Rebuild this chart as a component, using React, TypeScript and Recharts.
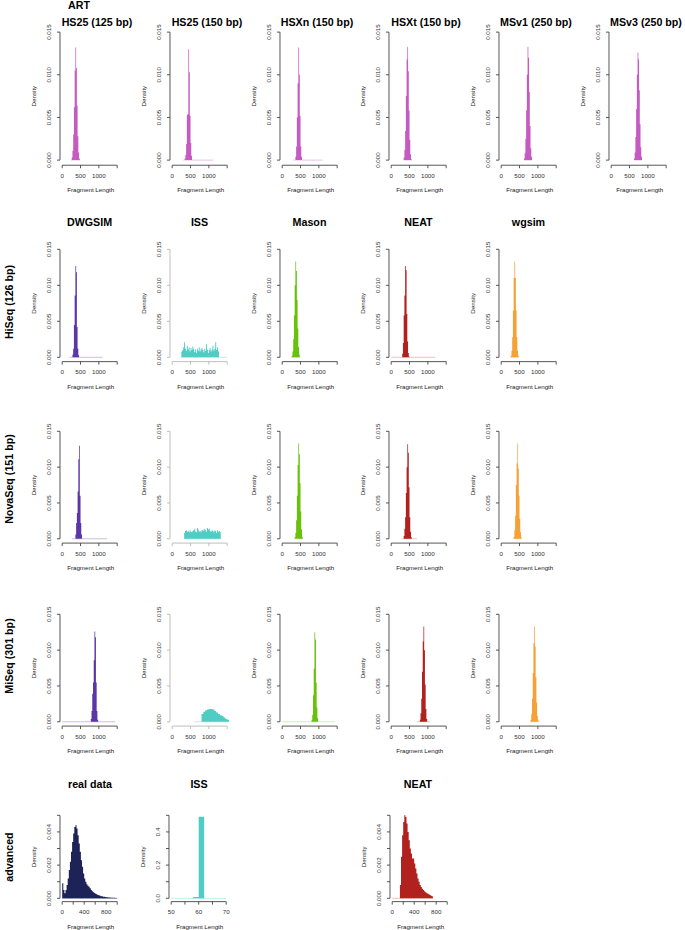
import React from 'react'
import { AreaChart, Area, XAxis, YAxis, ReferenceLine } from 'recharts'

// each bin: [lower edge of bin (bp), density]; last entry closes the last bin
type Bin = [number, number]

// ART
const artHs25_125: Bin[] = [[240, 0], [260, 0.0003], [280, 0.0011], [300, 0.003], [320, 0.0062], [340, 0.0105], [360, 0.0132], [380, 0.0108], [400, 0.0064], [420, 0.0028], [440, 0.0009], [460, 0.0002], [480, 0]]
const artHs25_150: Bin[] = [[300, 0], [340, 0.0002], [360, 0.0006], [380, 0.0019], [400, 0.0053], [420, 0.0054], [440, 0.013], [460, 0.0103], [480, 0.0052], [500, 0.002], [520, 0.0005], [540, 0], [1120, 0]]
const artHsxn_150: Bin[] = [[300, 0], [360, 0.0004], [380, 0.0016], [400, 0.005], [420, 0.009], [440, 0.0132], [460, 0.01], [480, 0.0052], [500, 0.0016], [520, 0.0004], [540, 0], [1100, 0]]
const artHsxt_150: Bin[] = [[340, 0.0003], [360, 0.0012], [380, 0.0034], [400, 0.0075], [420, 0.0118], [440, 0.0133], [460, 0.0104], [480, 0.0058], [500, 0.0024], [520, 0.0007], [540, 0.0001], [560, 0]]
const artMsv1_250: Bin[] = [[620, 0.0002], [640, 0.0008], [660, 0.0025], [680, 0.0058], [700, 0.01], [720, 0.0133], [740, 0.012], [760, 0.008], [780, 0.004], [800, 0.0014], [820, 0.0004], [840, 0]]
const artMsv3_250: Bin[] = [[620, 0.0002], [640, 0.0009], [660, 0.0027], [680, 0.006], [700, 0.01], [720, 0.0126], [740, 0.0118], [760, 0.0082], [780, 0.0042], [800, 0.0015], [820, 0.0004], [840, 0]]

// HiSeq (126 bp)
const dwgsimHiseq: Bin[] = [[200, 0], [280, 0.0004], [300, 0.0012], [320, 0.0045], [340, 0.0086], [360, 0.0127], [380, 0.0118], [400, 0.0042], [420, 0.0012], [440, 0.0003], [460, 0], [1100, 0]]
const issHiseq: Bin[] = [
  [250, 0.0008], [275, 0.001], [300, 0.0014], [325, 0.0021], [350, 0.0012], [375, 0.0009], [400, 0.0016], [425, 0.0011],
  [450, 0.0014], [475, 0.0008], [500, 0.0013], [525, 0.001], [550, 0.0015], [575, 0.0012], [600, 0.0007], [625, 0.0011],
  [650, 0.0006], [675, 0.0012], [700, 0.0009], [725, 0.0014], [750, 0.0008], [775, 0.0011], [800, 0.0013], [825, 0.001],
  [850, 0.0007], [875, 0.0012], [900, 0.0009], [925, 0.0018], [950, 0.0011], [975, 0.0006], [1000, 0.001], [1025, 0.0013],
  [1050, 0.0008], [1075, 0.0011], [1100, 0.0016], [1125, 0.0009], [1150, 0.0012], [1175, 0.0021], [1200, 0.001], [1225, 0.0014],
  [1250, 0.0008], [1275, 0], [1500, 0],
]
const masonHiseq: Bin[] = [[260, 0.0002], [280, 0.0008], [300, 0.0025], [320, 0.0058], [340, 0.01], [360, 0.0133], [380, 0.012], [400, 0.008], [420, 0.004], [440, 0.0014], [460, 0.0004], [480, 0]]
const neatHiseq: Bin[] = [[0, 0], [300, 0.0005], [320, 0.002], [340, 0.0058], [360, 0.0086], [380, 0.0127], [400, 0.0121], [420, 0.006], [440, 0.0022], [460, 0.0006], [480, 0.0001], [500, 0], [1200, 0]]
const wgsimHiseq: Bin[] = [[260, 0.0002], [280, 0.0009], [300, 0.0028], [320, 0.0065], [340, 0.011], [360, 0.0133], [380, 0.011], [400, 0.0065], [420, 0.0028], [440, 0.0009], [460, 0.0002], [480, 0]]

// NovaSeq (151 bp)
const dwgsimNova: Bin[] = [[260, 0], [360, 0.0006], [380, 0.0022], [400, 0.0036], [420, 0.0066], [440, 0.0111], [460, 0.013], [480, 0.006], [500, 0.0022], [520, 0.0006], [540, 0], [1220, 0]]
const issNova: Bin[] = [
  [325, 0.0008], [350, 0.0011], [375, 0.0012], [400, 0.001], [425, 0.0011], [450, 0.0009], [475, 0.0012], [500, 0.001],
  [525, 0.0009], [550, 0.0011], [575, 0.0012], [600, 0.0014], [625, 0.001], [650, 0.0009], [675, 0.0015], [700, 0.0013],
  [725, 0.001], [750, 0.0011], [775, 0.0009], [800, 0.0012], [825, 0.0013], [850, 0.0011], [875, 0.0014], [900, 0.0012],
  [925, 0.001], [950, 0.0015], [975, 0.0013], [1000, 0.0014], [1025, 0.0011], [1050, 0.001], [1075, 0.0012], [1100, 0.0011],
  [1125, 0.0009], [1150, 0.0012], [1175, 0.0011], [1200, 0.0008], [1225, 0.0012], [1250, 0.001], [1275, 0.0011], [1300, 0.0009],
  [1325, 0],
]
const masonNova: Bin[] = [[340, 0.0002], [360, 0.0008], [380, 0.0026], [400, 0.006], [420, 0.0103], [440, 0.0133], [460, 0.0118], [480, 0.0078], [500, 0.0038], [520, 0.0013], [540, 0.0003], [560, 0]]
const neatNova: Bin[] = [[280, 0], [340, 0.0004], [360, 0.0014], [380, 0.003], [400, 0.0064], [420, 0.01], [440, 0.0132], [460, 0.012], [480, 0.0072], [500, 0.003], [520, 0.001], [540, 0.0002], [560, 0], [700, 0]]
const wgsimNova: Bin[] = [[340, 0.0003], [360, 0.0012], [380, 0.0032], [400, 0.0075], [420, 0.0105], [440, 0.0133], [460, 0.0098], [480, 0.006], [500, 0.0028], [520, 0.0009], [540, 0.0002], [560, 0]]

// MiSeq (301 bp)
const dwgsimMiseq: Bin[] = [[0, 0], [780, 0.0004], [800, 0.0015], [820, 0.0039], [840, 0.0055], [860, 0.0086], [880, 0.0126], [900, 0.0118], [920, 0.0055], [940, 0.0015], [960, 0.0003], [980, 0], [1450, 0]]
const issMiseq: Bin[] = [[600, 0], [800, 0.0011], [850, 0.0014], [900, 0.0016], [950, 0.0017], [1000, 0.0018], [1050, 0.0018], [1100, 0.0017], [1150, 0.0015], [1200, 0.0013], [1250, 0.0011], [1300, 0.0009], [1350, 0.0008], [1400, 0.0006], [1450, 0.0004], [1500, 0.0003], [1550, 0]]
const masonMiseq: Bin[] = [[0, 0], [800, 0.0003], [820, 0.001], [840, 0.0037], [860, 0.0074], [880, 0.0125], [900, 0.0115], [920, 0.0055], [940, 0.002], [960, 0.0005], [980, 0], [1450, 0]]
const neatMiseq: Bin[] = [[700, 0], [780, 0.0003], [800, 0.0012], [820, 0.0032], [840, 0.007], [860, 0.0112], [880, 0.0133], [900, 0.01], [920, 0.0052], [940, 0.0018], [960, 0.0004], [980, 0], [1060, 0]]
const wgsimMiseq: Bin[] = [[800, 0.0003], [820, 0.0011], [840, 0.0032], [860, 0.0068], [880, 0.011], [900, 0.0133], [920, 0.0105], [940, 0.0062], [960, 0.0027], [980, 0.0008], [1000, 0.0002], [1020, 0]]

// advanced
const realData: Bin[] = [
  [0, 0.0009], [20, 0.0005], [40, 0.0003], [60, 0.0005], [80, 0.0008], [100, 0.0012], [120, 0.0017], [140, 0.0022],
  [160, 0.0028], [180, 0.0034], [200, 0.0039], [220, 0.0043], [240, 0.0044], [260, 0.0042], [280, 0.0038], [300, 0.0033],
  [320, 0.0028], [340, 0.0023], [360, 0.0019], [380, 0.0015], [400, 0.0012], [420, 0.001], [440, 0.00085], [460, 0.00075],
  [480, 0.0007], [500, 0.0006], [520, 0.0005], [540, 0.00043], [560, 0.00037], [580, 0.00032], [600, 0.00028], [620, 0.00024],
  [640, 0.0002], [660, 0.00018], [680, 0.00015], [700, 0.00013], [720, 0.00012], [740, 0.0001], [760, 0.00009], [780, 0.00008],
  [800, 0.00007], [820, 0.00006], [840, 0.00005], [860, 0.00005], [880, 0.00004], [900, 0.00004], [920, 0.00003], [940, 0.00003],
  [960, 0.00002], [980, 0.00002], [1000, 0],
]
const issAdvanced: Bin[] = [[50, 0], [52, 0], [54, 0], [56, 0], [58, 0.008], [60, 0.492], [62, 0], [64, 0], [66, 0], [68, 0], [70, 0]]
const neatAdvanced: Bin[] = [
  [0, 0], [140, 0.0008], [160, 0.0025], [180, 0.0038], [200, 0.0046], [220, 0.005], [240, 0.0049], [260, 0.0045],
  [280, 0.004], [300, 0.0035], [320, 0.003], [340, 0.0027], [360, 0.0024], [380, 0.0024], [400, 0.0021], [420, 0.0018],
  [440, 0.0015], [460, 0.0012], [480, 0.001], [500, 0.0008], [520, 0.00068], [540, 0.00058], [560, 0.0005], [580, 0.00043],
  [600, 0.00037], [620, 0.00032], [640, 0.00028], [660, 0.00024], [680, 0.0002], [700, 0.00016], [720, 0.00012], [740, 0],
]

// axis ticks
const lenTicks = [0, 500, 1000, 1500]
const lenLabels = [0, 500, 1000]
const densTicks = [0, 0.005, 0.01, 0.015]
const densLabels = [0, 0.005, 0.01, 0.015]
const realLenTicks = [0, 200, 400, 600, 800, 1000]
const realLenLabels = [0, 400, 800]
const realDensTicks = [0, 0.001, 0.002, 0.003, 0.004, 0.005]
const realDensLabels = [0, 0.002, 0.004]
const issLenTicks = [50, 55, 60, 65, 70]
const issLenLabels = [50, 60, 70]
const issDensTicks = [0, 0.1, 0.2, 0.3, 0.4, 0.5]
const issDensLabels = [0, 0.2, 0.4]

const FONT = '"Liberation Sans", Arial, Helvetica, sans-serif'
const PLOT_W = 55 // width of the tick range in px
const EXT = 0.04 // R extends the plot region by 4% each side
const YW = 30
const MT = 6
const XH = 32
const MR = 4
const AXIS = '#444'
const AXIS_LIGHT = '#b8b8b8'

const C = {
  art: ['#c55bc1', '#ebc3e9'],
  dwg: ['#5a36a6', '#cbbfe6'],
  iss: ['#4fcdc5', '#bdeeea'],
  mason: ['#68c10a', '#d2edb5'],
  neat: ['#b1221f', '#eec1c0'],
  wg: ['#f6a137', '#fcdcb5'],
  real: ['#1d2357', '#a4aac8'],
}

function AxisTitle({ px, py, text, vertical }: any) {
  return (
    <text
      transform={`translate(${px},${py})${vertical ? ' rotate(-90)' : ''}`}
      textAnchor="middle"
      fontSize={6.2}
      fontFamily={FONT}
      fill="#222"
    >
      {text}
    </text>
  )
}

interface PanelProps {
  bins: Bin[]
  x0: number
  top: number
  bottom: number
  color: string[]
  axis?: string
  xDomain?: [number, number]
  xTicks?: number[]
  xLabels?: number[]
  yDomain?: [number, number]
  yTicks?: number[]
  yLabels?: number[]
  yDigits?: number
}

function Panel({
  bins, x0, top, bottom, color, axis = AXIS,
  xDomain = [0, 1500], xTicks = lenTicks, xLabels = lenLabels,
  yDomain = [0, 0.015], yTicks = densTicks, yLabels = densLabels, yDigits = 3,
}: PanelProps) {
  const h = bottom - top
  const gx = PLOT_W * EXT
  const gy = h * EXT
  const xr = xDomain[1] - xDomain[0]
  const yr = yDomain[1] - yDomain[0]
  const xUsr: [number, number] = [xDomain[0] - EXT * xr, xDomain[1] + EXT * xr]
  const yUsr: [number, number] = [yDomain[0] - EXT * yr, yDomain[1] + EXT * yr]
  const plotW = PLOT_W + 2 * gx
  const plotH = h + 2 * gy
  const ay = MT + plotH // x axis line (bottom of plot region), chart coords
  const data = bins.map(([x, d]) => ({ x, d, zero: 0 }))

  const xTick = (p: any) => {
    const v = p.payload.value
    if (!xLabels.includes(v)) return <g />
    return (
      <text x={p.x} y={ay + 12.6} textAnchor="middle" fontSize={6.2} fontFamily={FONT} fill="#333">{v}</text>
    )
  }
  const yTick = (p: any) => {
    const v = p.payload.value
    if (!yLabels.includes(v)) return <g />
    return (
      <text transform={`translate(${YW - 8.8},${p.y}) rotate(-90)`} textAnchor="middle" fontSize={6.2} fontFamily={FONT} fill="#333">
        {v.toFixed(yDigits)}
      </text>
    )
  }

  return (
    <div style={{ position: 'absolute', left: x0 - YW, top: top - gy - MT }}>
      <AreaChart width={YW + plotW + MR} height={MT + plotH + XH} data={data} margin={{ top: MT, right: MR, bottom: 0, left: 0 }}>
        <XAxis
          dataKey="x" type="number" domain={xUsr} allowDataOverflow ticks={xTicks} interval={0} height={XH}
          axisLine={false} tickSize={3} tickLine={{ stroke: axis, strokeWidth: 0.9 }} tick={xTick}
          label={<AxisTitle px={YW + plotW / 2 + 1} py={ay + 27} text="Fragment Length" />}
        />
        <YAxis
          type="number" domain={yUsr} allowDataOverflow ticks={yTicks} interval={0} width={YW}
          axisLine={false} tickSize={3} tickLine={{ stroke: axis, strokeWidth: 0.9 }} tick={yTick}
          label={<AxisTitle px={YW - 24.3} py={MT + plotH / 2} text="Density" vertical />}
        />
        {/* empty bins show as a pale line at zero, bars filled on top */}
        <Area type="linear" dataKey="zero" stroke={color[1]} strokeWidth={1} fill="none" dot={false} activeDot={false} isAnimationActive={false} />
        <Area type="stepAfter" dataKey="d" stroke="none" fill={color[0]} fillOpacity={1} dot={false} activeDot={false} isAnimationActive={false} />
        {/* R-style axis lines spanning the first to last tick */}
        <ReferenceLine
          segment={[{ x: xDomain[0], y: yUsr[0] }, { x: xDomain[1], y: yUsr[0] }]}
          stroke={axis} strokeWidth={0.9} ifOverflow="visible"
        />
        <ReferenceLine
          segment={[{ x: xUsr[0], y: yDomain[0] }, { x: xUsr[0], y: yDomain[1] }]}
          stroke={axis} strokeWidth={0.9} ifOverflow="visible"
        />
      </AreaChart>
    </div>
  )
}

function Title({ cx, cy, text, rotate }: { cx: number; cy: number; text: string; rotate?: boolean }) {
  return (
    <div
      style={{
        position: 'absolute', left: cx, top: cy, whiteSpace: 'nowrap',
        transform: `translate(-50%,-50%)${rotate ? ' rotate(-90deg)' : ''}`,
        fontFamily: FONT, fontWeight: 'bold', fontSize: 10.7, lineHeight: '12px', color: '#000',
      }}
    >
      {text}
    </div>
  )
}

const COLS = [60, 170, 280, 389, 499, 609]
const R1 = { top: 32, bottom: 160 }
const R2 = { top: 249, bottom: 357 }
const R3 = { top: 431.5, bottom: 539 }
const R4 = { top: 614.5, bottom: 722 }
const R5 = { top: 815, bottom: 898 }

export default function App() {
  return (
    <div style={{ position: 'absolute', left: 0, top: 0, width: 685, height: 930, background: '#fff', overflow: 'hidden' }}>
      <Title cx={79} cy={5} text="ART" />
      {['HS25 (125 bp)', 'HS25 (150 bp)', 'HSXn (150 bp)', 'HSXt (150 bp)', 'MSv1 (250 bp)', 'MSv3 (250 bp)'].map((t, i) => (
        <Title key={t} cx={COLS[i] + 37} cy={22} text={t} />
      ))}
      <Panel bins={artHs25_125} x0={COLS[0]} {...R1} color={C.art} />
      <Panel bins={artHs25_150} x0={COLS[1]} {...R1} color={C.art} />
      <Panel bins={artHsxn_150} x0={COLS[2]} {...R1} color={C.art} />
      <Panel bins={artHsxt_150} x0={COLS[3]} {...R1} color={C.art} />
      <Panel bins={artMsv1_250} x0={COLS[4]} {...R1} color={C.art} />
      <Panel bins={artMsv3_250} x0={COLS[5]} {...R1} color={C.art} />

      {['DWGSIM', 'ISS', 'Mason', 'NEAT', 'wgsim'].map((t, i) => (
        <Title key={t} cx={COLS[i] + 29.5} cy={222} text={t} />
      ))}
      <Title cx={9} cy={302} text="HiSeq (126 bp)" rotate />
      <Panel bins={dwgsimHiseq} x0={COLS[0]} {...R2} color={C.dwg} />
      <Panel bins={issHiseq} x0={COLS[1]} {...R2} color={C.iss} axis={AXIS_LIGHT} />
      <Panel bins={masonHiseq} x0={COLS[2]} {...R2} color={C.mason} />
      <Panel bins={neatHiseq} x0={COLS[3]} {...R2} color={C.neat} />
      <Panel bins={wgsimHiseq} x0={COLS[4]} {...R2} color={C.wg} />

      <Title cx={9} cy={479} text="NovaSeq (151 bp)" rotate />
      <Panel bins={dwgsimNova} x0={COLS[0]} {...R3} color={C.dwg} />
      <Panel bins={issNova} x0={COLS[1]} {...R3} color={C.iss} axis={AXIS_LIGHT} />
      <Panel bins={masonNova} x0={COLS[2]} {...R3} color={C.mason} />
      <Panel bins={neatNova} x0={COLS[3]} {...R3} color={C.neat} />
      <Panel bins={wgsimNova} x0={COLS[4]} {...R3} color={C.wg} />

      <Title cx={9} cy={656} text="MiSeq (301 bp)" rotate />
      <Panel bins={dwgsimMiseq} x0={COLS[0]} {...R4} color={C.dwg} />
      <Panel bins={issMiseq} x0={COLS[1]} {...R4} color={C.iss} axis={AXIS_LIGHT} />
      <Panel bins={masonMiseq} x0={COLS[2]} {...R4} color={C.mason} />
      <Panel bins={neatMiseq} x0={COLS[3]} {...R4} color={C.neat} />
      <Panel bins={wgsimMiseq} x0={COLS[4]} {...R4} color={C.wg} />

      <Title cx={9} cy={857} text="advanced" rotate />
      <Title cx={COLS[0] + 30} cy={784} text="real data" />
      <Title cx={169 + 30} cy={784} text="ISS" />
      <Title cx={390 + 28} cy={784} text="NEAT" />
      <Panel
        bins={realData} x0={COLS[0]} {...R5} color={C.real}
        xDomain={[0, 1000]} xTicks={realLenTicks} xLabels={realLenLabels}
        yDomain={[0, 0.005]} yTicks={realDensTicks} yLabels={realDensLabels}
      />
      <Panel
        bins={issAdvanced} x0={169} {...R5} color={C.iss}
        xDomain={[50, 70]} xTicks={issLenTicks} xLabels={issLenLabels}
        yDomain={[0, 0.5]} yTicks={issDensTicks} yLabels={issDensLabels} yDigits={1}
      />
      <Panel
        bins={neatAdvanced} x0={390} {...R5} color={C.neat}
        xDomain={[0, 1000]} xTicks={realLenTicks} xLabels={realLenLabels}
        yDomain={[0, 0.005]} yTicks={realDensTicks} yLabels={realDensLabels}
      />
    </div>
  )
}
